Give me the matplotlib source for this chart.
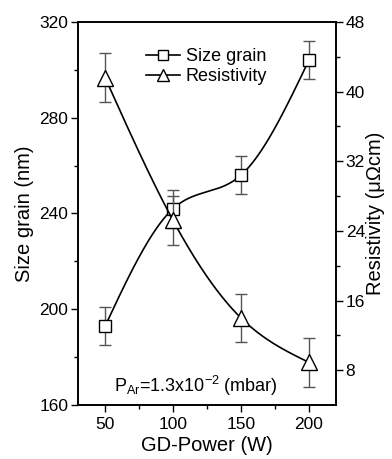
import numpy as np
import matplotlib
matplotlib.use("Agg")
import matplotlib.pyplot as plt
from matplotlib.lines import Line2D

plt.rcParams['font.family'] = ['Liberation Sans', 'DejaVu Sans']

power = [50, 100, 150, 200]
grain = [193, 242, 256, 304]
grain_err = [8, 8, 8, 8]
resist = [41.6, 25.2, 14.0, 8.9]
resist_err = [2.8, 2.8, 2.8, 2.8]


def smooth(x, y, n=200):
    # natural cubic spline, only used to draw the connecting line
    x = np.asarray(x, float)
    y = np.asarray(y, float)
    k = len(x)
    h = np.diff(x)
    A = np.zeros((k, k))
    b = np.zeros(k)
    A[0, 0] = A[-1, -1] = 1
    for i in range(1, k - 1):
        A[i, i - 1] = h[i - 1]
        A[i, i] = 2 * (h[i - 1] + h[i])
        A[i, i + 1] = h[i]
        b[i] = 6 * ((y[i + 1] - y[i]) / h[i] - (y[i] - y[i - 1]) / h[i - 1])
    m = np.linalg.solve(A, b)
    xs = np.linspace(x[0], x[-1], n)
    idx = np.clip(np.searchsorted(x, xs) - 1, 0, k - 2)
    t0 = xs - x[idx]
    t1 = x[idx + 1] - xs
    hh = h[idx]
    ys = (m[idx] * t1**3 + m[idx + 1] * t0**3) / (6 * hh) \
        + (y[idx] / hh - m[idx] * hh / 6) * t1 \
        + (y[idx + 1] / hh - m[idx + 1] * hh / 6) * t0
    return xs, ys


fig = plt.figure(figsize=(3.92, 4.59), dpi=100)
ax1 = fig.add_axes([78 / 392, 1 - 405 / 459, (336 - 78) / 392, (405 - 22) / 459])
ax2 = ax1.twinx()

ax1.errorbar(power, grain, yerr=grain_err, fmt='none', ecolor='#555555',
             elinewidth=1, capsize=4, capthick=1)
xs, ys = smooth(power, grain)
ax1.plot(xs, ys, color='black', lw=1.2)
ax1.plot(power, grain, 's', ms=9, mfc='white', mec='black', mew=1)

ax2.errorbar(power, resist, yerr=resist_err, fmt='none', ecolor='#555555',
             elinewidth=1, capsize=4, capthick=1)
xs, ys = smooth(power, resist)
ax2.plot(xs, ys, color='black', lw=1.2)
ax2.plot(power, resist, '^', ms=11, mfc='white', mec='black', mew=1)

ax1.set_xlim(30, 220)
ax1.set_ylim(160, 320)
ax2.set_ylim(4, 48)
ax1.set_xticks([50, 100, 150, 200])
ax1.set_xticks([75, 125, 175], minor=True)
ax1.set_yticks([160, 200, 240, 280, 320])
ax1.set_yticks([180, 220, 260, 300], minor=True)
ax2.set_yticks([8, 16, 24, 32, 40, 48])
ax2.set_yticks([12, 20, 28, 36, 44], minor=True)

for a in (ax1, ax2):
    a.tick_params(which='major', direction='out', length=5, width=1, labelsize=12.5)
    a.tick_params(which='minor', direction='out', length=3, width=1)
    for s in a.spines.values():
        s.set_linewidth(1.2)
ax1.tick_params(axis='y', pad=2)
ax2.tick_params(axis='y', pad=2)

ax1.set_xlabel('GD-Power (W)', fontsize=14.5, labelpad=3)
ax1.set_ylabel('Size grain (nm)', fontsize=14.5, labelpad=4)
ax2.set_ylabel('Resistivity (μΩcm)', fontsize=14.5, labelpad=1)

ax1.text(117, 165.5, r'P$_{\mathregular{Ar}}$=1.3x10$^{\mathregular{-2}}$ (mbar)',
         fontsize=13, ha='center', va='baseline')

handles = [
    Line2D([], [], color='black', lw=1.2, marker='s', ms=7, mfc='white', mec='black'),
    Line2D([], [], color='black', lw=1.2, marker='^', ms=8, mfc='white', mec='black'),
]
ax1.legend(handles, ['Size grain', 'Resistivity'], loc='upper left',
           bbox_to_anchor=(0.2, 0.975), frameon=False, fontsize=13,
           handlelength=1.9, handletextpad=0.3, labelspacing=0.2)

fig.savefig('out.png', dpi=100)
